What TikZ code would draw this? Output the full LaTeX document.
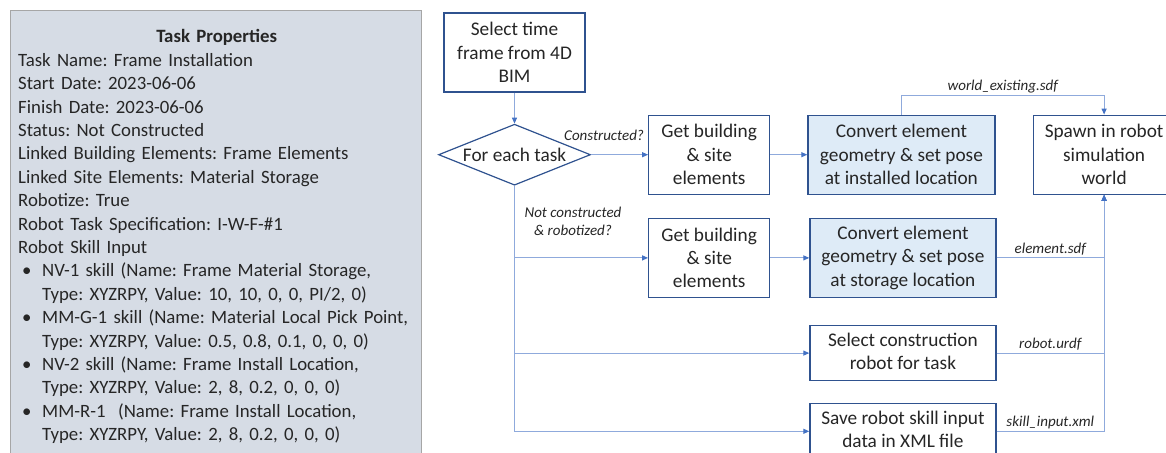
\documentclass[tikz,border=0pt]{standalone}
\usepackage{fontspec}
\setmainfont{Carlito}
\usetikzlibrary{arrows.meta,positioning,shapes.geometric}
\definecolor{outline}{RGB}{47,82,143}
\definecolor{softgray}{RGB}{214,220,229}
\definecolor{panelline}{RGB}{166,166,166}
\definecolor{paleblue}{RGB}{222,235,247}
\definecolor{linkblue}{RGB}{143,170,220}
\definecolor{tipblue}{RGB}{68,114,196}
\definecolor{ink}{RGB}{38,38,38}
\newcommand{\itembul}{\hspace*{4pt}\makebox[20pt][l]{\textbullet}}
\newcommand{\itemgap}{\hspace*{24pt}}
\frenchspacing

\begin{document}
\begin{tikzpicture}[
  x=1pt,y=1pt,
  >={Triangle[length=6pt,width=5pt,color=tipblue]},
  every node/.style={text=ink},
  procbox/.style={draw=outline,line width=1.2pt,fill=white,align=center,minimum width=121pt,minimum height=79pt,inner sep=0pt,font=\fontsize{19.3}{23.4}\selectfont},
  convbox/.style={procbox,fill=paleblue,minimum width=187pt},
  widebox/.style={procbox,minimum width=186pt,minimum height=55pt},
  decision/.style={diamond,draw=outline,line width=1.2pt,aspect=2.5,minimum width=152pt,minimum height=61pt,inner sep=0pt,font=\fontsize{19.3}{23.4}\selectfont},
  flow/.style={draw=linkblue,line width=1.1pt,->},
  fname/.style={font=\fontsize{15}{18.5}\selectfont\itshape,inner sep=2pt},
  cond/.style={fname,align=center}
]
  \useasboundingbox (0,0) rectangle (1166,-452);
  \clip (0,0) rectangle (1166,-452);

  % task properties panel
  \node[draw=panelline,line width=1pt,fill=softgray,anchor=north west,minimum width=411pt,minimum height=470pt] (props) at (10,-10) {};
  \node[anchor=north west,inner sep=0pt,text width=400pt,align=left,font=\fontsize{18.8}{23.4}\selectfont] (proptext) at (18,-29.5) {%
    \hspace*{0pt}\makebox[397pt][c]{\bfseries Task Properties}\\
    Task Name: Frame Installation\\
    Start Date: 2023-06-06\\
    Finish Date: 2023-06-06\\
    Status: Not Constructed\\
    Linked Building Elements: Frame Elements\\
    Linked Site Elements: Material Storage\\
    Robotize: True\\
    Robot Task Specification: I-W-F-\#1\\
    Robot Skill Input\\
    \itembul NV-1 skill (Name: Frame Material Storage,\\
    \itemgap Type: XYZRPY, Value: 10, 10, 0, 0, PI/2, 0)\\
    \itembul MM-G-1 skill (Name: Material Local Pick Point,\\
    \itemgap Type: XYZRPY, Value: 0.5, 0.8, 0.1, 0, 0, 0)\\
    \itembul NV-2 skill (Name: Frame Install Location,\\
    \itemgap Type: XYZRPY, Value: 2, 8, 0.2, 0, 0, 0)\\
    \itembul MM-R-1\ \ (Name: Frame Install Location,\\
    \itemgap Type: XYZRPY, Value: 2, 8, 0.2, 0, 0, 0)};

  % flow chart
  \node[procbox,minimum width=141pt] (frame) at (514.5,-52.5) {Select time\\frame from 4D\\BIM};
  \node[decision,below=31pt of frame] (task) {For each task};
  \node[procbox,right=57pt of task] (get1) {Get building\\\& site\\elements};
  \node[convbox,right=37pt of get1] (conv1) {Convert element\\geometry \& set pose\\at installed location};
  \node[procbox,minimum width=142pt,right=37pt of conv1] (spawn) {Spawn in robot\\simulation\\world};
  \node[procbox,below=23pt of get1] (get2) {Get building\\\& site\\elements};
  \node[convbox,minimum width=186pt,right=39pt of get2] (conv2) {Convert element\\geometry \& set pose\\at storage location};
  \node[widebox,below=27pt of conv2] (robot) {\strut Select construction\\robot for task\strut};
  \node[widebox,below=22pt of robot] (save) {\strut Save robot skill input\\data in XML file\strut};

  \draw[flow] (frame) -- (task);
  \draw[flow] (task) -- (get1);
  \node[fname,anchor=east] (lblcon) at ([xshift=-2pt,yshift=19pt]get1.west) {Constructed?};
  \draw[flow] (get1) -- (conv1);
  \draw[flow] (conv1.north) -- ++(0,19pt) -| node[fname,pos=0.25,above] {world\_existing.sdf} (spawn.north);

  \draw[flow] (task) |- (get2);
  \draw[flow] (task) |- (robot);
  \draw[flow] (task) |- (save);
  \node[cond] (lblnot) at (573,-221.5) {Not constructed\\\& robotized?};
  \draw[flow] (get2) -- (conv2);

  \draw[flow] (conv2) -| node[fname,pos=0.25,above] {element.sdf} (spawn);
  \draw[flow] (robot) -| node[fname,pos=0.25,above] {robot.urdf} (spawn);
  \draw[flow] (save) -| node[fname,pos=0.25,above] {skill\_input.xml} (spawn);
\end{tikzpicture}
\end{document}
